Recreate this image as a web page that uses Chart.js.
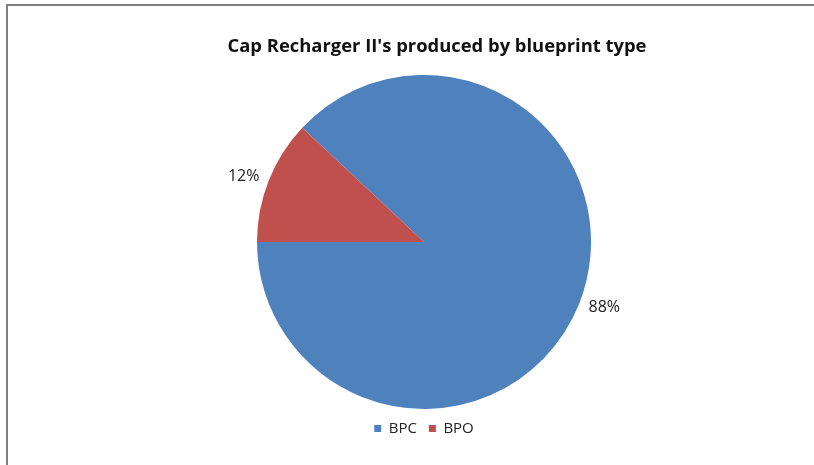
<!DOCTYPE html>
<html>
<head>
<meta charset="utf-8">
<script src="https://cdn.jsdelivr.net/npm/chart.js@4/dist/chart.umd.min.js"></script>
<style>
    body { margin: 0; background: #fff; }
    #frame {
        position: absolute; left: 6px; top: 4px; width: 808px; height: 461px;
        border-top: 2px solid #808080; border-left: 2px solid #808080;
    }
    #title {
        position: absolute; left: 437px; top: 32px; transform: translateX(-50%);
        font: bold 18.4px "Open Sans", sans-serif; color: #111; white-space: nowrap;
    }
    #wrap { position: absolute; left: 8px; top: 6px; width: 806px; height: 459px; }
</style>
</head>
<body>
<div id="frame"></div>
<div id="wrap"><canvas id="myChart"></canvas></div>
<div id="title">Cap Recharger II's produced by blueprint type</div>
<script>
const labels = ['BPC', 'BPO']
const values = [88, 12]
const colors = ['#4F81BD', '#C0504D']

const ctx = document.getElementById('myChart')

// percentage labels just outside each slice
const outsideLabels = {
    id: 'outsideLabels',
    afterDatasetsDraw(chart) {
        const c = chart.ctx
        const meta = chart.getDatasetMeta(0)
        const data = chart.data.datasets[0].data
        const total = data.reduce((a, b) => a + b, 0)
        c.save()
        c.font = '16px "Open Sans", sans-serif'
        c.fillStyle = '#222'
        c.textBaseline = 'middle'
        meta.data.forEach((arc, i) => {
            const p = arc.getProps(['x', 'y', 'startAngle', 'endAngle', 'outerRadius'], true)
            const mid = (p.startAngle + p.endAngle) / 2
            const r = p.outerRadius + 10
            const x = p.x + Math.cos(mid) * r
            const y = p.y + Math.sin(mid) * r
            c.textAlign = Math.cos(mid) < 0 ? 'right' : 'left'
            c.fillText(Math.round(data[i] / total * 100) + '%', x, y)
        })
        c.restore()
    }
}

const myChart = new Chart(ctx, {
    type: 'pie',
    data: {
        labels: labels,
        datasets: [{
            data: values,
            backgroundColor: colors,
            borderWidth: 0
        }]
    },
    options: {
        responsive: true,
        maintainAspectRatio: false,
        animation: false,
        rotation: -46.8,
        layout: { padding: { top: 69, bottom: 19, left: 26, right: 0 } },
        plugins: {
            title: { display: false },
            tooltip: { enabled: false },
            legend: {
                position: 'bottom',
                labels: {
                    usePointStyle: true,
                    pointStyle: 'rect',
                    boxWidth: 7,
                    boxHeight: 7,
                    padding: 12,
                    color: '#222',
                    font: { size: 15, family: '"Open Sans", sans-serif' }
                }
            }
        }
    },
    plugins: [outsideLabels]
})
</script>
</body>
</html>
